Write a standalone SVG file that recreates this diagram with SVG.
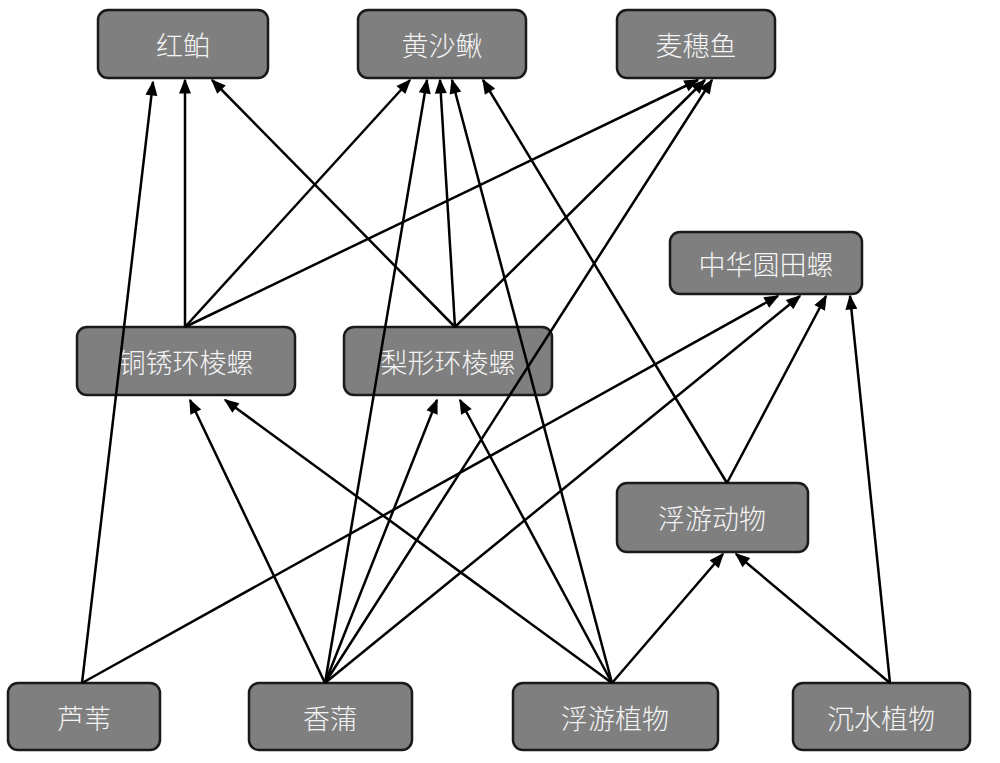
<svg xmlns="http://www.w3.org/2000/svg" width="1000" height="763" viewBox="0 0 1000 763">
<style>
rect{fill:#7f7f7f;stroke:#1a1a1a;stroke-width:2.5}
text{font-family:"Noto Sans CJK SC",sans-serif;font-size:27px;font-weight:300;fill:#f4f4f4;text-anchor:middle;dominant-baseline:central}
line{stroke:#000;stroke-width:2.5;marker-end:url(#a)}
</style>
<defs><marker id="a" viewBox="0 0 10 10" refX="9" refY="5" markerWidth="6.5" markerHeight="6" orient="auto" markerUnits="strokeWidth"><path d="M0,1 L10,5 L0,9 z" fill="#000"/></marker></defs>
<rect width="1000" height="763" style="fill:#fff;stroke:none"/>
<g id="n1"><rect x="98" y="10" width="170" height="68" rx="10"/><text x="183" y="44">红鲌</text></g>
<g id="n2"><rect x="358" y="10" width="168" height="68" rx="10"/><text x="442" y="44">黄沙鳅</text></g>
<g id="n3"><rect x="617" y="10" width="158" height="68" rx="10"/><text x="696" y="44">麦穗鱼</text></g>
<g id="n4"><rect x="670" y="232" width="192" height="62" rx="10"/><text x="766" y="263">中华圆田螺</text></g>
<g id="n5"><rect x="77" y="327" width="218" height="68" rx="10"/><text x="186" y="361">铜锈环棱螺</text></g>
<g id="n6"><rect x="344" y="327" width="208" height="68" rx="10"/><text x="448" y="361">梨形环棱螺</text></g>
<g id="n7"><rect x="617" y="483" width="191" height="69" rx="10"/><text x="712" y="517">浮游动物</text></g>
<g id="n8"><rect x="8" y="683" width="152" height="67" rx="10"/><text x="84" y="717">芦苇</text></g>
<g id="n9"><rect x="249" y="683" width="163" height="67" rx="10"/><text x="330" y="717">香蒲</text></g>
<g id="n10"><rect x="513" y="683" width="205" height="67" rx="10"/><text x="615" y="717">浮游植物</text></g>
<g id="n11"><rect x="793" y="683" width="177" height="67" rx="10"/><text x="881" y="717">沉水植物</text></g>
<g id="connectors">
<line x1="82" y1="683" x2="153" y2="82"/>
<line x1="82" y1="683" x2="778" y2="296"/>
<line x1="325" y1="683" x2="190" y2="400"/>
<line x1="325" y1="683" x2="437" y2="400"/>
<line x1="325" y1="683" x2="427" y2="80"/>
<line x1="325" y1="683" x2="712" y2="80"/>
<line x1="325" y1="683" x2="800" y2="296"/>
<line x1="612" y1="683" x2="225" y2="400"/>
<line x1="612" y1="683" x2="460" y2="400"/>
<line x1="612" y1="683" x2="452" y2="80"/>
<line x1="612" y1="683" x2="723" y2="554"/>
<line x1="890" y1="683" x2="736" y2="554"/>
<line x1="890" y1="683" x2="850" y2="296"/>
<line x1="727" y1="483" x2="826" y2="296"/>
<line x1="727" y1="483" x2="483" y2="80"/>
<line x1="185" y1="327" x2="185" y2="80"/>
<line x1="185" y1="327" x2="410" y2="80"/>
<line x1="185" y1="327" x2="698" y2="80"/>
<line x1="455" y1="327" x2="212" y2="80"/>
<line x1="455" y1="327" x2="440" y2="80"/>
<line x1="455" y1="327" x2="705" y2="80"/>
</g>
</svg>
